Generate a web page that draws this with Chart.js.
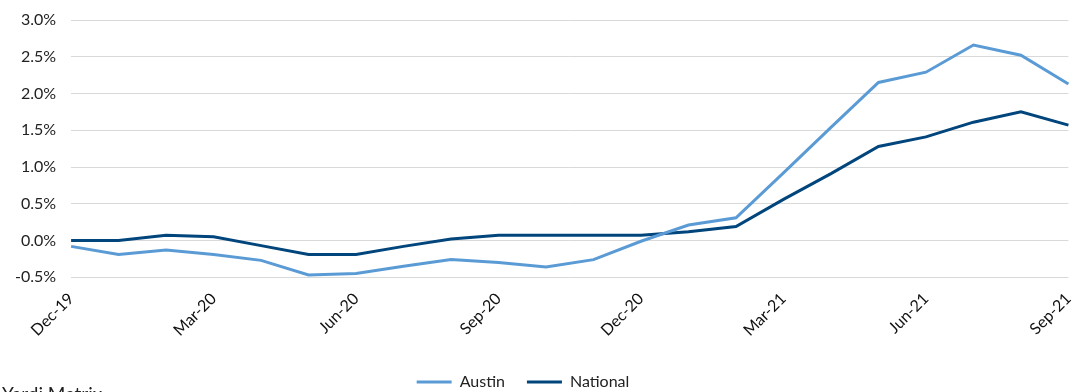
<!DOCTYPE html>
<html>
<head>
<meta charset="utf-8">
<script src="https://cdn.jsdelivr.net/npm/chart.js@4/dist/chart.umd.min.js"></script>
<style>
  html, body { margin: 0; padding: 0; background: #fff; overflow: hidden; }
  #wrap { width: 1086px; height: 392px; position: relative; overflow: hidden; }
</style>
</head>
<body>
<div id="wrap"><canvas id="c" width="1086" height="400"></canvas></div>
<script>
// Monthly categories, Dec-19 through Sep-21
const months = ['Dec-19','Jan-20','Feb-20','Mar-20','Apr-20','May-20','Jun-20','Jul-20','Aug-20','Sep-20','Oct-20','Nov-20',
                'Dec-20','Jan-21','Feb-21','Mar-21','Apr-21','May-21','Jun-21','Jul-21','Aug-21','Sep-21'];

// Rent growth, percent
const austin   = [-0.08,-0.19,-0.13,-0.19,-0.27,-0.47,-0.45,-0.35,-0.26,-0.30,-0.36,-0.26,
                  -0.01, 0.21, 0.31, 0.92, 1.54, 2.15, 2.29, 2.66, 2.52, 2.13];
const national = [ 0.00, 0.00, 0.07, 0.05,-0.07,-0.19,-0.19,-0.08, 0.02, 0.07, 0.07, 0.07,
                   0.07, 0.12, 0.19, 0.56, 0.91, 1.28, 1.41, 1.61, 1.75, 1.57];

const yTicks = { min: -0.5, max: 3.0, step: 0.5 };
const sourceText = 'Yardi Matrix';

const AUSTIN_COLOR = '#5b9bd5';
const NATIONAL_COLOR = '#00457c';

// Source line drawn under the legend (runs off the bottom edge)
const sourcePlugin = {
  id: 'sourceLine',
  afterDraw(chart) {
    const ctx = chart.ctx;
    ctx.save();
    ctx.font = '19px Lato, "Open Sans", sans-serif';
    ctx.fillStyle = '#222';
    ctx.textBaseline = 'top';
    ctx.textAlign = 'left';
    ctx.fillText(sourceText, 2, 385);
    ctx.restore();
  }
};

// Nudge the centred legend a little to the left
const legendShift = {
  id: 'legendShift',
  afterLayout(chart) {
    if (chart.legend) chart.legend.left -= 30;
  }
};

new Chart(document.getElementById('c'), {
  type: 'line',
  data: {
    labels: months,
    datasets: [
      { label: 'Austin', data: austin, borderColor: AUSTIN_COLOR, backgroundColor: AUSTIN_COLOR,
        borderWidth: 3, pointRadius: 0, tension: 0 },
      { label: 'National', data: national, borderColor: NATIONAL_COLOR, backgroundColor: NATIONAL_COLOR,
        borderWidth: 3, pointRadius: 0, tension: 0 }
    ]
  },
  options: {
    responsive: false,
    animation: false,
    layout: { padding: { left: 0, right: 10, top: 0, bottom: 0 } },
    plugins: {
      tooltip: { enabled: false },
      legend: {
        position: 'bottom',
        labels: {
          usePointStyle: true,
          pointStyle: 'line',
          pointStyleWidth: 35,
          boxHeight: 16,
          padding: 22,
          color: '#222',
          font: { family: 'Lato, "Open Sans", sans-serif', size: 16 }
        }
      }
    },
    scales: {
      x: {
        offset: false,
        grid: { display: false },
        border: { display: false },
        afterFit: scale => { scale.height += 8; },
        ticks: {
          autoSkip: false,
          maxRotation: 45,
          minRotation: 45,
          padding: 4,
          color: '#111',
          font: { family: 'Lato, "Open Sans", sans-serif', size: 16 },
          callback: (v, i) => (i % 3 === 0 ? months[i] : '')
        }
      },
      y: {
        min: yTicks.min,
        max: yTicks.max,
        grid: { color: '#d9d9d9', lineWidth: 1, drawTicks: false },
        border: { display: false },
        ticks: {
          stepSize: yTicks.step,
          padding: 15,
          color: '#222',
          font: { family: 'Lato, "Open Sans", sans-serif', size: 16, lineHeight: 0.625 },
          callback: v => v.toFixed(1) + '%'
        }
      }
    }
  },
  plugins: [sourcePlugin, legendShift]
});
</script>
</body>
</html>
